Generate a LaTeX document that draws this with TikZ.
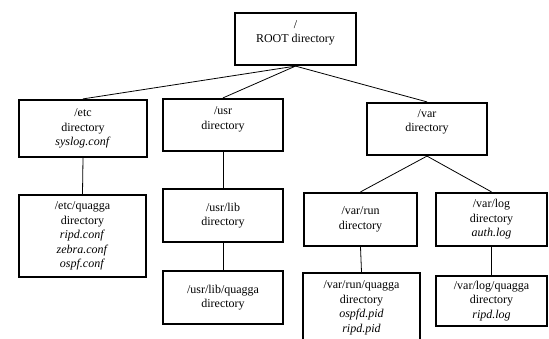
\documentclass[tikz,border=0pt]{standalone}
\usepackage{fontspec}
\setmainfont{Liberation Serif}
\tikzset{
  dirbox/.style={draw, line width=2.2pt, align=center, inner sep=0pt, font=\fontsize{12}{14.5}\selectfont},
  link/.style={line width=0.8pt},
}
\begin{document}
\begin{tikzpicture}[x=1pt, y=-1pt]
    \useasboundingbox (0, 0) rectangle (549, 339);
    \clip (0, 0) rectangle (549, 339);
    \node[dirbox, minimum width=121pt, minimum height=52pt, text depth=14.5pt] (root) at (295.5, 39) {/\\ROOT directory};
    \node[dirbox, minimum width=128pt, minimum height=57pt] (etc) at (83, 128.5) {/etc\\directory\\\textit{syslog.conf}};
    \node[dirbox, minimum width=120pt, minimum height=52pt, text depth=13.5pt] (usr) at (223, 125) {/usr\\directory};
    \node[dirbox, minimum width=120pt, minimum height=52pt, text depth=16.5pt] (var) at (427, 129) {/var\\directory};
    \node[dirbox, minimum width=127pt, minimum height=82pt] (etcq) at (82.5, 236) {/etc/quagga\\directory\\\textit{ripd.conf}\\\textit{zebra.conf}\\\textit{ospf.conf}};
    \node[dirbox, minimum width=120pt, minimum height=53pt] (usrlib) at (223, 215.5) {/usr/lib\\directory};
    \node[dirbox, minimum width=120pt, minimum height=53pt] (usrlibq) at (223, 297.5) {/usr/lib/quagga\\directory};
    \node[dirbox, minimum width=113pt, minimum height=53pt] (varrun) at (360.5, 219.5) {/var/run\\directory};
    \node[dirbox, minimum width=111pt, minimum height=53pt] (varlog) at (491.5, 219.5) {/var/log\\directory\\\textit{auth.log}};
    \node[dirbox, minimum width=117pt, minimum height=70pt] (varrunq) at (361.5, 308) {/var/run/quagga\\directory\\\textit{ospfd.pid}\\\textit{ripd.pid}};
    \node[dirbox, minimum width=111pt, minimum height=50pt] (varlogq) at (491.5, 301) {/var/log/quagga\\directory\\\textit{ripd.log}};
    \draw[link] (root.south) -- (etc.north);
    \draw[link] (root.south) -- (usr.north);
    \draw[link] (root.south) -- (var.north);
    \draw[link] (etc.south) -- (etcq.north);
    \draw[link] (usr.south) -- (usrlib.north);
    \draw[link] (usrlib.south) -- (usrlibq.north);
    \draw[link] (var.south) -- (varrun.north);
    \draw[link] (var.south) -- (varlog.north);
    \draw[link] (varrun.south) -- (varrunq.north);
    \draw[link] (varlog.south) -- (varlogq.north);
\end{tikzpicture}
\end{document}
